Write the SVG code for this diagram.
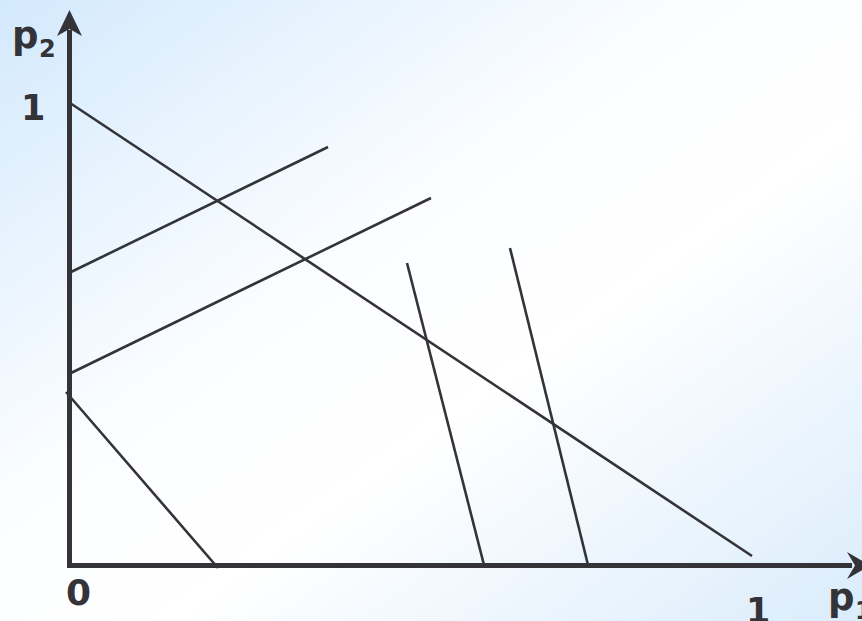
<svg xmlns="http://www.w3.org/2000/svg" width="862" height="621" viewBox="0 0 862 621">
<defs>
<linearGradient id="bg" x1="0" y1="0" x2="1" y2="1">
<stop offset="0" stop-color="#d3e9fd"/>
<stop offset="0.4" stop-color="#fbfdff"/>
<stop offset="0.6" stop-color="#ffffff"/>
<stop offset="1" stop-color="#daecfb"/>
</linearGradient>
<style>
.ax{stroke:#333338;stroke-width:5;fill:none}
.ah{fill:#333338}
.ln{stroke:#333338;stroke-width:2.6;fill:none}
.t{font-family:"DejaVu Sans",Verdana,sans-serif;font-weight:bold;fill:#333338}
</style>
</defs>
<rect width="862" height="621" fill="url(#bg)"/>
<g id="axes">
<path class="ax" d="M69.5 30 V565.5 H852"/>
<path class="ah" d="M69.5 10 L82 36 L69.5 29 L57 36 Z"/>
<path class="ah" d="M870 565.5 L847 579 L855 565.5 L847 552 Z"/>
</g>
<g id="connectors">
<line class="ln" x1="70" y1="103" x2="752" y2="556"/>
<line class="ln" x1="71" y1="272" x2="328" y2="147"/>
<line class="ln" x1="71" y1="373" x2="431" y2="198"/>
<line class="ln" x1="66" y1="392" x2="218" y2="568"/>
<line class="ln" x1="407" y1="263" x2="484" y2="565"/>
<line class="ln" x1="510" y1="248" x2="588" y2="565"/>
</g>
<g id="labels">
<text class="t" x="12" y="48" font-size="37">p</text>
<text class="t" x="39" y="57" font-size="24">2</text>
<text class="t" x="21" y="120" font-size="35">1</text>
<text class="t" x="66" y="605" font-size="36">0</text>
<text class="t" x="746" y="623" font-size="35">1</text>
<text class="t" x="828" y="610" font-size="37">p</text>
<text class="t" x="855" y="619" font-size="24">1</text>
</g>
</svg>
